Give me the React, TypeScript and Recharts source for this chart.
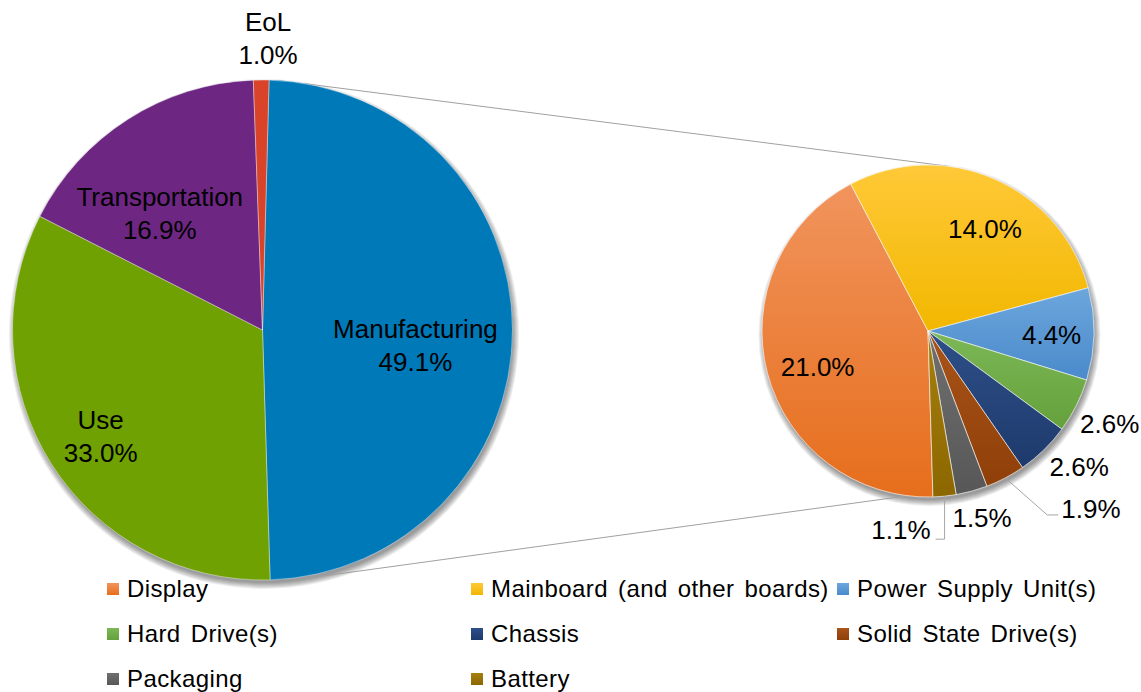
import React from "react";
import { PieChart, Pie, Cell, Legend } from "recharts";

// --- data ---
const mainCategories = ["Manufacturing", "Use", "Transportation", "EoL"];
const mainValues = [49.1, 33.0, 16.9, 1.0];

const detailCategories = [
  "Display",
  "Mainboard (and other boards)",
  "Power Supply Unit(s)",
  "Hard Drive(s)",
  "Chassis",
  "Solid State Drive(s)",
  "Packaging",
  "Battery",
];
const detailValues = [21.0, 14.0, 4.4, 2.6, 2.6, 1.9, 1.5, 1.1];

// --- styles ---
const W = 1141;
const H = 692;
const FONT = '"Liberation Sans", Arial, Helvetica, sans-serif';

const mainColors = ["#0079B9", "#6FA102", "#6E2683", "#D8432A"];
const detailTop = ["#F1945D", "#FFC938", "#6CA6DC", "#7DB857", "#2E4F88", "#A9541A", "#707070", "#A67F0E"];
const detailBottom = ["#E66E1C", "#F2B700", "#4A8ACB", "#64A03B", "#1E3A6C", "#8F3F08", "#575757", "#8C6700"];

const MAIN = { cx: 262.5, cy: 330, r: 250, start: 88.5 };
const DETAIL = { cx: 928, cy: 331, r: 166, start: -88.3 };

// label placement: radius factor + angle nudge (degrees)
const mainLabelLayout = [
  { rf: 0.615, nudge: -6 },
  { rf: 0.775, nudge: 1 },
  { rf: 0.62, nudge: 9 },
  { rf: 1.165, nudge: -1.4 },
];
const detailLabelLayout = [
  { rf: 0.7, nudge: 3.5 },
  { rf: 0.705, nudge: -5.5 },
  { rf: 0.745, nudge: -0.8 },
  { rf: 1.23, nudge: -0.4 },
  { rf: 1.225, nudge: 3.8 },
  { rf: 1, nudge: 0, leader: "right" },
  { rf: 1.17, nudge: 0.9 },
  { rf: 1, nudge: 0, leader: "down" },
];

const RAD = Math.PI / 180;
const polar = (cx: number, cy: number, r: number, angle: number) => [
  cx + r * Math.cos(-angle * RAD),
  cy + r * Math.sin(-angle * RAD),
];

const mainData = mainCategories.map((name, i) => ({ name, value: mainValues[i] }));
const detailData = detailCategories.map((name, i) => ({ name, value: detailValues[i] }));

const renderMainLabel = (props: any) => {
  const { cx, cy, midAngle, outerRadius, index } = props;
  const lay = mainLabelLayout[index];
  const [x, y] = polar(cx, cy, outerRadius * lay.rf, midAngle + lay.nudge);
  return (
    <text x={x} y={y} textAnchor="middle" fill="#000" fontSize={26} fontFamily={FONT}>
      <tspan x={x} y={y - 16.5} dominantBaseline="central">
        {mainCategories[index]}
      </tspan>
      <tspan x={x} y={y + 16.5} dominantBaseline="central">
        {mainValues[index].toFixed(1)}%
      </tspan>
    </text>
  );
};

const renderDetailLabel = (props: any) => {
  const { cx, cy, midAngle, outerRadius, index } = props;
  const lay = detailLabelLayout[index];
  const txt = `${detailValues[index].toFixed(1)}%`;
  if (lay.leader === "right") {
    const [x0, y0] = polar(cx, cy, outerRadius, midAngle);
    const ex = x0 + 42;
    const ey = y0 + 37;
    return (
      <g>
        <polyline points={`${x0},${y0} ${ex},${ey} ${ex + 11},${ey}`} fill="none" stroke="#A6A6A6" strokeWidth={1} />
        <text x={ex + 14} y={ey - 6} textAnchor="start" dominantBaseline="central" fill="#000" fontSize={26} fontFamily={FONT}>
          {txt}
        </text>
      </g>
    );
  }
  if (lay.leader === "down") {
    const [x0, y0] = polar(cx, cy, outerRadius, midAngle);
    const ey = y0 + 43;
    return (
      <g>
        <polyline points={`${x0},${y0} ${x0},${ey} ${x0 - 9},${ey}`} fill="none" stroke="#A6A6A6" strokeWidth={1} />
        <text x={x0 - 14} y={ey - 9} textAnchor="end" dominantBaseline="central" fill="#000" fontSize={26} fontFamily={FONT}>
          {txt}
        </text>
      </g>
    );
  }
  const [x, y] = polar(cx, cy, outerRadius * lay.rf, midAngle + lay.nudge);
  return (
    <text x={x} y={y} textAnchor="middle" dominantBaseline="central" fill="#000" fontSize={26} fontFamily={FONT}>
      {txt}
    </text>
  );
};

function LegendGrid() {
  return (
    <div
      style={{
        display: "grid",
        gridTemplateColumns: "364px 366px 300px",
        paddingLeft: 107,
        fontFamily: FONT,
        fontSize: 24,
        letterSpacing: 0.4,
        wordSpacing: 3,
        color: "#000",
      }}
    >
      {detailCategories.map((name, i) => (
        <div key={name} style={{ display: "flex", alignItems: "center", height: 45, whiteSpace: "nowrap" }}>
          <span
            style={{
              width: 12,
              height: 12,
              marginRight: 8,
              background: `linear-gradient(${detailTop[i]}, ${detailBottom[i]})`,
              display: "inline-block",
            }}
          />
          {name}
        </div>
      ))}
    </div>
  );
}

// soft shadow faked with stacked translucent discs (blur filters are not reliable here)
const SHADOW_STEPS = [0, 1, 2, 3, 4, 5, 6];

function Backdrop() {
  const [ax, ay] = polar(MAIN.cx, MAIN.cy, MAIN.r, 80);
  const [bx, by] = polar(DETAIL.cx, DETAIL.cy, DETAIL.r, 83);
  const [cx2, cy2] = polar(MAIN.cx, MAIN.cy, MAIN.r, -81.4);
  const [dx, dy] = polar(DETAIL.cx, DETAIL.cy, DETAIL.r, -97);
  const shadow = (p: { cx: number; cy: number; r: number }) =>
    SHADOW_STEPS.map((k) => (
      <circle key={k} cx={p.cx + 1.5} cy={p.cy + 4} r={p.r - 1 + k} fill="#000" fillOpacity={0.065} />
    ));
  return (
    <svg width={W} height={H} style={{ position: "absolute", left: 0, top: 0 }}>
      {shadow(MAIN)}
      {shadow(DETAIL)}
      <line x1={ax} y1={ay} x2={bx} y2={by} stroke="#A0A0A0" strokeWidth={1} />
      <line x1={cx2} y1={cy2 + 2} x2={dx} y2={dy} stroke="#A0A0A0" strokeWidth={1} />
    </svg>
  );
}

export default function App() {
  return (
    <div style={{ position: "absolute", left: 0, top: 0, width: W, height: H, background: "#fff" }}>
      <svg width={0} height={0} style={{ position: "absolute" }}>
        <defs>
          {detailTop.map((c, i) => (
            <linearGradient key={i} id={`dg${i}`} x1="0" y1="0" x2="0" y2="1">
              <stop offset="0" stopColor={c} />
              <stop offset="1" stopColor={detailBottom[i]} />
            </linearGradient>
          ))}
        </defs>
      </svg>
      <Backdrop />
      <div style={{ position: "absolute", left: 0, top: 0, zIndex: 1 }}>
        <PieChart width={W} height={H} margin={{ top: 0, right: 0, bottom: 0, left: 0 }}>
          <Pie
            data={mainData}
            dataKey="value"
            nameKey="name"
            cx={MAIN.cx}
            cy={MAIN.cy}
            outerRadius={MAIN.r}
            startAngle={MAIN.start}
            endAngle={MAIN.start - 360}
            stroke="#ffffff"
            strokeWidth={0.4}
            label={renderMainLabel}
            labelLine={false}
            isAnimationActive={false}
          >
            {mainData.map((d, i) => (
              <Cell key={d.name} fill={mainColors[i]} />
            ))}
          </Pie>
          <Pie
            data={detailData}
            dataKey="value"
            nameKey="name"
            cx={DETAIL.cx}
            cy={DETAIL.cy}
            outerRadius={DETAIL.r}
            startAngle={DETAIL.start}
            endAngle={DETAIL.start - 360}
            stroke="#ffffff"
            strokeWidth={0.6}
            label={renderDetailLabel}
            labelLine={false}
            isAnimationActive={false}
          >
            {detailData.map((d, i) => (
              <Cell key={d.name} fill={`url(#dg${i})`} />
            ))}
          </Pie>
          <Legend
            content={() => <LegendGrid />}
            wrapperStyle={{ position: "absolute", left: 0, top: 566, width: W, height: 135 }}
          />
        </PieChart>
      </div>
    </div>
  );
}
